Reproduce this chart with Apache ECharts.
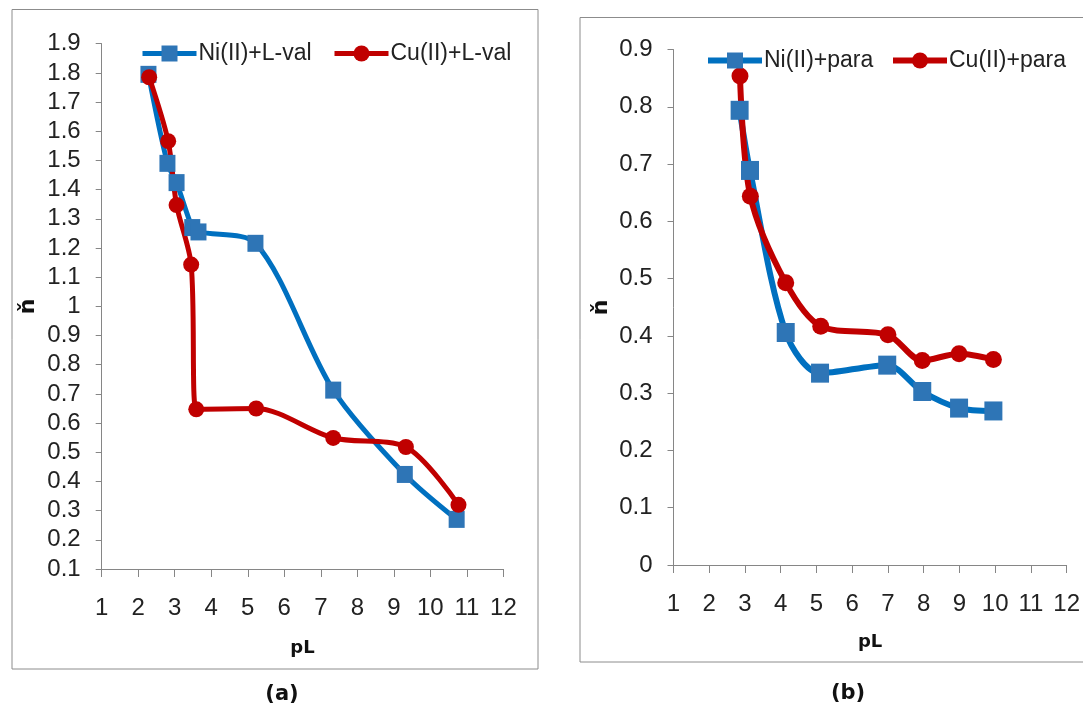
<!DOCTYPE html>
<html>
<head>
<meta charset="utf-8">
<title>pL - ň</title>
<script src="https://cdn.jsdelivr.net/npm/echarts@6/dist/echarts.min.js"></script>
<style>
html,body{margin:0;padding:0;background:#fff;}
#main{width:1083px;height:706px;}
</style>
</head>
<body>
<div id="main"></div>
<script>
// (a) L-val
var niLvalPL = [2.28, 2.80, 3.05, 3.48, 3.65, 5.21, 7.34, 9.30, 10.72];
var niLvalN  = [1.795, 1.49, 1.424, 1.27, 1.255, 1.216, 0.713, 0.424, 0.27];
var cuLvalPL = [2.30, 2.82, 3.05, 3.45, 3.59, 5.23, 7.34, 9.33, 10.77];
var cuLvalN  = [1.785, 1.566, 1.347, 1.143, 0.647, 0.650, 0.549, 0.518, 0.32];
// (b) para
var niParaPL = [2.85, 3.14, 4.14, 5.10, 6.98, 7.96, 8.99, 9.95];
var niParaN  = [0.794, 0.689, 0.406, 0.335, 0.349, 0.303, 0.274, 0.269];
var cuParaPL = [2.86, 3.15, 4.14, 5.12, 7.00, 7.96, 8.99, 9.95];
var cuParaN  = [0.854, 0.644, 0.493, 0.417, 0.402, 0.357, 0.369, 0.359];

var seriesNames = ['Ni(II)+L-val', 'Cu(II)+L-val', 'Ni(II)+para', 'Cu(II)+para'];
var panelLabels = ['(a)', '(b)'];

function zip(xs, ys){
  return xs.map(function(x, i){ return [x, ys[i]]; });
}

var BLUE = '#0070C0', BLUE_MK = '#2E75B6', RED = '#C00000';
var AXIS = '#868686';
var tickFont = "'Liberation Sans', Arial, sans-serif";
var boldFont = "'DejaVu Sans', sans-serif";

function fmt(v){ return String(+v.toFixed(1)); }

function xAx(grid, nameGap){
  return {
    type:'value', gridIndex:grid, min:1, max:12, interval:1,
    name:'pL', nameLocation:'middle', nameGap:nameGap,
    nameTextStyle:{fontFamily:boldFont, fontWeight:'bold', fontSize:18, color:'#111'},
    axisLine:{onZero:false, lineStyle:{color:AXIS, width:1}},
    axisTick:{show:true, length:8, lineStyle:{color:AXIS}},
    axisLabel:{margin:27, fontFamily:tickFont, fontSize:24, color:'#222'},
    splitLine:{show:false}
  };
}
function yAx(grid, min, max, nameGap){
  return {
    type:'value', gridIndex:grid, min:min, max:max, interval:0.1,
    name:'ň', nameLocation:'middle', nameGap:nameGap, nameRotate:90,
    nameTextStyle:{fontFamily:boldFont, fontWeight:'bold', fontSize:22, color:'#111'},
    axisLine:{show:true, lineStyle:{color:AXIS, width:1}},
    axisTick:{show:true, length:6, lineStyle:{color:AXIS}},
    axisLabel:{margin:21, fontFamily:tickFont, fontSize:24, color:'#222', formatter:fmt},
    splitLine:{show:false}
  };
}
function line(name, data, xi, color, mk, symbol, size, width){
  return {
    name:name, type:'line', xAxisIndex:xi, yAxisIndex:xi,
    data:data, smooth:0.3, symbol:symbol, symbolSize:size,
    lineStyle:{color:color, width:width},
    itemStyle:{color:mk, borderWidth:0},
    animation:false
  };
}
function leg(name, left, top, lw){
  return {
    data:[name], left:left, top:top, padding:0,
    itemWidth:54, itemHeight:20, itemGap:0,
    lineStyle:{width:lw},
    textStyle:{fontFamily:tickFont, fontSize:23, color:'#222', padding:[0,0,0,-3]}
  };
}

var chart = echarts.init(document.getElementById('main'));
chart.setOption({
  animation:false,
  backgroundColor:'#fff',
  grid:[
    {left:101.7, right:579.6, top:43.7, bottom:137},
    {left:673.5, right:14.2, top:49.6, bottom:141}
  ],
  xAxis:[xAx(0, 70), xAx(1, 68)],
  yAxis:[yAx(0, 0.1, 1.9, 62), yAx(1, 0, 0.9, 61)],
  legend:[
    leg(seriesNames[0], 140, 42, 5),
    leg(seriesNames[1], 332, 42, 5),
    leg(seriesNames[2], 705, 49, 6),
    leg(seriesNames[3], 890, 49, 6)
  ],
  series:[
    line(seriesNames[0], zip(niLvalPL, niLvalN), 0, BLUE, BLUE_MK, 'rect', [16,17], 5),
    line(seriesNames[1], zip(cuLvalPL, cuLvalN), 0, RED, RED, 'circle', 16, 5),
    line(seriesNames[2], zip(niParaPL, niParaN), 1, BLUE, BLUE_MK, 'rect', [18,19], 6),
    line(seriesNames[3], zip(cuParaPL, cuParaN), 1, RED, RED, 'circle', 17, 6)
  ],
  graphic:[
    {type:'rect', shape:{x:12, y:9.5, width:526, height:659.5}, style:{fill:null, stroke:'#8c8c8c', lineWidth:1}, silent:true},
    {type:'rect', shape:{x:580, y:17.5, width:520, height:644.5}, style:{fill:null, stroke:'#8c8c8c', lineWidth:1}, silent:true},
    {type:'text', x:282, y:695, style:{text:panelLabels[0], font:'bold 21px ' + boldFont, fill:'#111', textAlign:'center', textVerticalAlign:'middle'}},
    {type:'text', x:848, y:694, style:{text:panelLabels[1], font:'bold 21px ' + boldFont, fill:'#111', textAlign:'center', textVerticalAlign:'middle'}}
  ]
});
</script>
</body>
</html>
